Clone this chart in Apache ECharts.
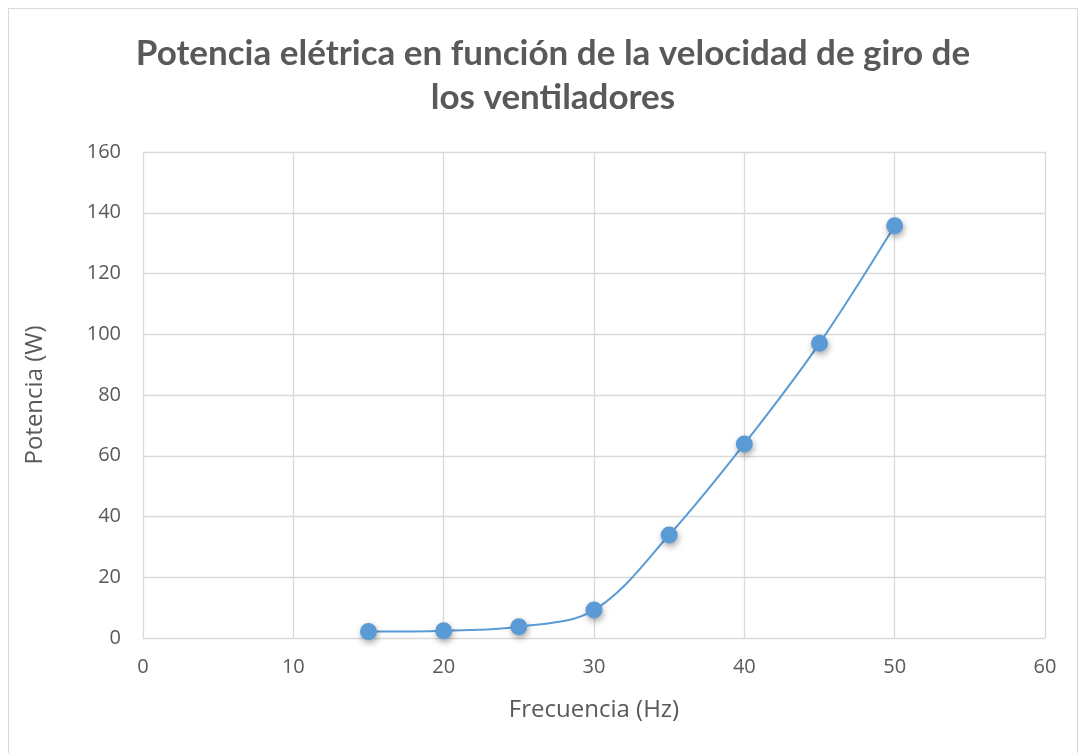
<!DOCTYPE html>
<html>
<head>
<meta charset="utf-8">
<script src="https://cdn.jsdelivr.net/npm/echarts@6/dist/echarts.min.js"></script>
<style>
  html, body { margin: 0; padding: 0; background: #fff; }
  #frame { position: absolute; left: 8px; top: 8px; width: 1070px; height: 760px; border: 1px solid #d9d9d9; box-sizing: border-box; }
  #chart { width: 1082px; height: 753px; position: absolute; left: 0; top: 0; }
</style>
</head>
<body>
<div id="frame"></div>
<div id="chart"></div>
<script>
// Frequency of the fans (Hz) and measured electrical power (W)
const frecuencia = [15, 20, 25, 30, 35, 40, 45, 50];
const potencia = [2.1, 2.4, 3.7, 9.2, 33.9, 63.9, 97.0, 135.7];
const xTicks = [0, 10, 20, 30, 40, 50, 60];
const yTicks = [0, 20, 40, 60, 80, 100, 120, 140, 160];

const chart = echarts.init(document.getElementById('chart'), null, { renderer: 'canvas' });
const gray = '#595959';
const titleFont = 'Lato, "Open Sans", sans-serif';
const font = '"Open Sans", Lato, sans-serif';

chart.setOption({
  animation: false,
  title: {
    text: 'Potencia elétrica en función de la velocidad de giro de\nlos ventiladores',
    left: 548,
    top: 27,
    textAlign: 'center',
    textStyle: { fontFamily: titleFont, fontWeight: 'bold', fontSize: 35, color: gray, lineHeight: 44 }
  },
  grid: { left: 143, right: 37, top: 152, bottom: 115, containLabel: false },
  xAxis: {
    type: 'value',
    min: xTicks[0], max: xTicks[xTicks.length - 1], interval: 10,
    name: 'Frecuencia (Hz)', nameLocation: 'middle', nameGap: 60,
    nameTextStyle: { fontFamily: font, fontSize: 24, color: gray },
    axisLine: { show: true, lineStyle: { color: '#d9d9d9' } },
    axisTick: { show: false },
    axisLabel: { fontFamily: font, fontSize: 20, color: gray, margin: 19 },
    splitLine: { show: true, lineStyle: { color: '#d9d9d9', width: 1.3 } }
  },
  yAxis: {
    type: 'value',
    min: yTicks[0], max: yTicks[yTicks.length - 1], interval: 20,
    name: 'Potencia (W)', nameLocation: 'middle', nameGap: 96,
    nameTextStyle: { fontFamily: font, fontSize: 24, color: gray },
    axisLine: { show: false },
    axisTick: { show: false },
    axisLabel: { fontFamily: font, fontSize: 20, color: gray, margin: 22 },
    splitLine: { show: true, lineStyle: { color: '#d9d9d9', width: 1.3 } }
  },
  series: [{
    type: 'line',
    data: frecuencia.map((f, i) => [f, potencia[i]]),
    smooth: 0.35,
    symbol: 'circle',
    symbolSize: 17,
    lineStyle: { color: '#5b9bd5', width: 2 },
    itemStyle: {
      color: '#5b9bd5',
      shadowColor: 'rgba(0,0,0,0.35)',
      shadowBlur: 6,
      shadowOffsetX: 1,
      shadowOffsetY: 3
    }
  }]
});
</script>
</body>
</html>
